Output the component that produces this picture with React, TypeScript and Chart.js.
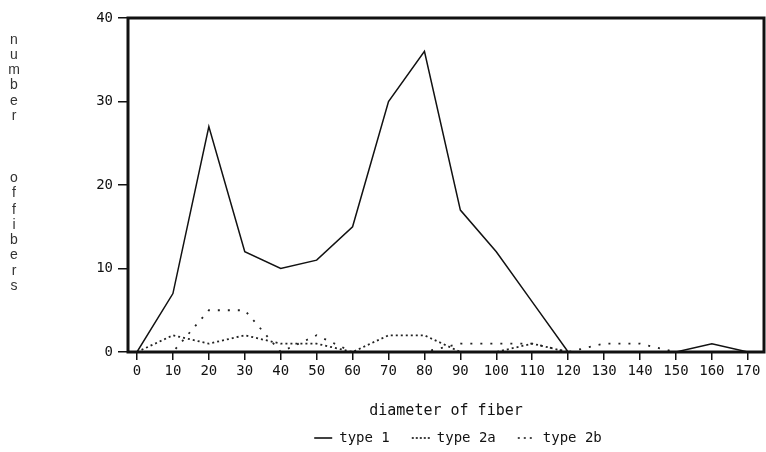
import React, { useEffect, useRef } from "react";
import { Chart, registerables } from "chart.js";

Chart.register(...registerables);

// ---- data ----
const diameters = [0, 10, 20, 30, 40, 50, 60, 70, 80, 90, 100, 110, 120, 130, 140, 150, 160, 170];
const xTickValues = [0, 10, 20, 30, 40, 50, 60, 70, 80, 90, 100, 110, 120, 130, 140, 150, 160, 170];
const yTickValues = [0, 10, 20, 30, 40];
const type1 = [0, 7, 27, 12, 10, 11, 15, 30, 36, 17, 12, 6, 0, 0, 0, 0, 1, 0];
const type2a = [0, 2, 1, 2, 1, 1, 0, 2, 2, 0, 0, 1, 0, 0, 0, 0, 0, 0];
const type2b = [0, 0, 5, 5, 0, 2, 0, 0, 0, 1, 1, 1, 0, 1, 1, 0, 0, 0];
const seriesLabels = ["type 1", "type 2a", "type 2b"];
const xTitle = "diameter of fiber";
const yTitle = "number of fibers";

const MONO = "'DejaVu Sans Mono', 'Liberation Mono', monospace";
const SANS = "'Liberation Sans', 'DejaVu Sans', sans-serif";
const legendDashes = [[], [2, 2], [2, 4]];

const toPoints = (vals: number[]) => vals.map((v, i) => ({ x: diameters[i], y: v }));

const frameAndTitlePlugin = {
  id: "frameAndTitle",
  afterLayout(chart: any) {
    const lg = chart.legend;
    if (lg) {
      lg.left += 12;
      lg.right += 12;
    }
  },
  afterDatasetsDraw(chart: any) {
    const { ctx, chartArea } = chart;
    ctx.save();
    ctx.strokeStyle = "#111";
    ctx.lineWidth = 3;
    ctx.strokeRect(chartArea.left, chartArea.top, chartArea.right - chartArea.left, chartArea.bottom - chartArea.top);
    ctx.restore();
  },
  afterDraw(chart: any) {
    const { ctx } = chart;
    ctx.save();
    ctx.fillStyle = "#333";
    ctx.font = `14px ${SANS}`;
    ctx.textAlign = "center";
    ctx.textBaseline = "middle";
    const words = yTitle.split(" ");
    const starts = [40, 178, 210];
    const step = 15.2;
    words.forEach((w, wi) => {
      w.split("").forEach((ch, ci) => {
        ctx.fillText(ch, 14, starts[wi] + ci * step);
      });
    });
    ctx.restore();
  },
};

export default function App() {
  const ref = useRef<HTMLCanvasElement | null>(null);
  useEffect(() => {
    if (!ref.current) return;
    const chart = new Chart(ref.current, {
      type: "line",
      data: {
        datasets: [
          {
            label: seriesLabels[0],
            data: toPoints(type1),
            borderColor: "#111",
            backgroundColor: "#111",
            borderWidth: 1.5,
            pointRadius: 0,
            tension: 0,
          },
          {
            label: seriesLabels[1],
            data: toPoints(type2a),
            borderColor: "#222",
            backgroundColor: "#222",
            borderWidth: 1.8,
            borderDash: [2, 3],
            pointRadius: 0,
            tension: 0,
          },
          {
            label: seriesLabels[2],
            data: toPoints(type2b),
            borderColor: "#222",
            backgroundColor: "#222",
            borderWidth: 1.8,
            borderDash: [2, 8],
            pointRadius: 0,
            tension: 0,
          },
        ],
      },
      options: {
        responsive: false,
        animation: false,
        devicePixelRatio: 1,
        layout: { padding: { left: 0, top: 18, right: 2, bottom: -3 } },
        plugins: {
          tooltip: { enabled: false },
          legend: {
            position: "bottom",
            fullSize: false,
            labels: {
              usePointStyle: true,
              pointStyle: "line",
              pointStyleWidth: 18,
              padding: 22,
              color: "#111",
              font: { family: MONO, size: 14 },
              generateLabels: (c: any) => {
                const base = Chart.defaults.plugins.legend.labels.generateLabels(c);
                return base.map((it: any, i: number) => ({
                  ...it,
                  pointStyle: "line",
                  lineDash: legendDashes[i] || [],
                  lineWidth: 1.6,
                  strokeStyle: "#111",
                  fillStyle: "#111",
                }));
              },
            },
          },
        },
        scales: {
          x: {
            type: "linear",
            min: -2.5,
            max: 174.5,
            afterBuildTicks: (scale: any) => {
              scale.ticks = xTickValues.map((v) => ({ value: v }));
            },
            afterFit: (scale: any) => {
              scale.height = 57;
            },
            ticks: {
              autoSkip: false,
              maxRotation: 0,
              padding: 3,
              color: "#111",
              font: { family: MONO, size: 14 },
            },
            grid: { drawOnChartArea: false, drawTicks: true, tickLength: 8, color: "#111", lineWidth: 1.5 },
            border: { display: false },
            title: {
              display: true,
              text: xTitle,
              color: "#111",
              font: { family: MONO, size: 15 },
              padding: { top: 0, bottom: -11 },
            },
          },
          y: {
            type: "linear",
            min: 0,
            max: 40,
            afterBuildTicks: (scale: any) => {
              scale.ticks = yTickValues.map((v) => ({ value: v }));
            },
            afterFit: (scale: any) => {
              scale.width = 128;
            },
            ticks: {
              padding: 5,
              color: "#111",
              font: { family: MONO, size: 14 },
            },
            grid: { drawOnChartArea: false, drawTicks: true, tickLength: 10, color: "#111", lineWidth: 1.5 },
            border: { display: false },
          },
        },
      },
      plugins: [frameAndTitlePlugin],
    } as any);
    return () => chart.destroy();
  }, []);
  return (
    <div style={{ position: "fixed", left: 0, top: 0, width: 766, height: 452, background: "#fff" }}>
      <canvas ref={ref} width={766} height={452} style={{ display: "block" }} />
    </div>
  );
}
